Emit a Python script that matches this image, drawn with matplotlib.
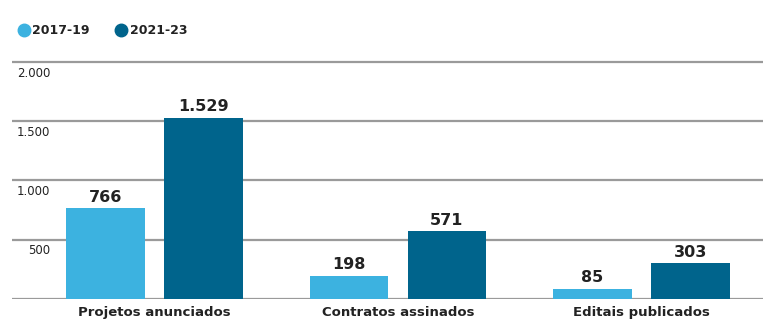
import matplotlib
matplotlib.use('Agg')
import matplotlib.pyplot as plt
from matplotlib.lines import Line2D
from matplotlib.transforms import blended_transform_factory

# data
categories = ['Projetos anunciados', 'Contratos assinados', 'Editais publicados']
series_names = ['2017-19', '2021-23']
values_1719 = [766, 198, 85]
values_2123 = [1529, 571, 303]
ticks = [500, 1000, 1500, 2000]
tick_labels = ['500', '1.000', '1.500', '2.000']

light = '#3cb2e0'
dark = '#00648c'
grid_color = '#9a9a9a'
text_color = '#222222'

plt.rcParams['font.family'] = ['DejaVu Sans']

W, H = 763, 328
fig = plt.figure(figsize=(W / 100, H / 100), dpi=100)
# axes placed in pixel terms: left 12px, bottom line at y=299px, top at 45px
ax = fig.add_axes([12 / W, (H - 299) / H, (W - 12) / W, (299 - 45) / H])

x = list(range(len(categories)))
off = 0.201
bw = 0.322
b1 = ax.bar([i - off for i in x], values_1719, bw, color=light, zorder=3)
b2 = ax.bar([i + off for i in x], values_2123, bw, color=dark, zorder=3)

for bars, vals in ((b1, values_1719), (b2, values_2123)):
    for rect, v in zip(bars, vals):
        lab = f'{v:,}'.replace(',', '.')
        ax.text(rect.get_x() + rect.get_width() / 2, v + 30, lab,
                ha='center', va='bottom', fontsize=11.5, fontweight='bold',
                color=text_color, zorder=4)

ax.set_xlim(-0.585, 2.499)
ax.set_ylim(0, 2143)

# horizontal rules
for t in [0] + ticks:
    ax.axhline(t, color=grid_color, lw=1.6, zorder=2)

trans = blended_transform_factory(ax.transAxes, ax.transData)
for t, lab in zip(ticks, tick_labels):
    ax.text(38 / (W - 12), t - 40, lab, transform=trans, ha='right', va='top',
            fontsize=8.5, color=text_color)

ax.set_xticks([])
ax.set_yticks([])
for s in ax.spines.values():
    s.set_visible(False)

for i, c in enumerate(categories):
    ax.text(i, -55, c, ha='center', va='top', fontsize=9.5, fontweight='bold',
            color=text_color)

handles = [Line2D([], [], marker='o', ls='', markersize=9, color=light),
           Line2D([], [], marker='o', ls='', markersize=9, color=dark)]
leg = fig.legend(handles, series_names, loc='center left',
                 bbox_to_anchor=(6 / W, 1 - 31 / H), ncol=2, frameon=False,
                 handletextpad=0.2, columnspacing=2.0, handlelength=1.0,
                 prop={'size': 9, 'weight': 'bold'})
for t in leg.get_texts():
    t.set_color(text_color)

fig.savefig('out.png', dpi=100, facecolor='white')
